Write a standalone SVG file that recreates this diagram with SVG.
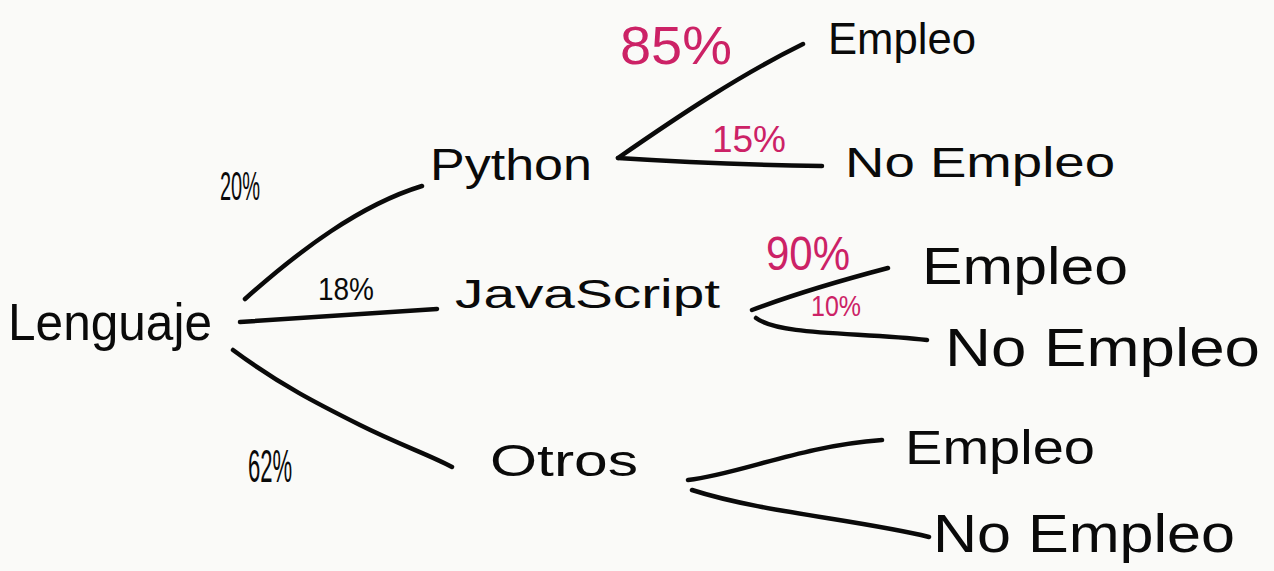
<svg xmlns="http://www.w3.org/2000/svg" width="1274" height="571" viewBox="0 0 1274 571">
<style>
.bg{fill:#fafaf8}
.e{fill:none;stroke:#0a0a0a;stroke-width:4.5;stroke-linecap:round}
.t{font-family:"Liberation Sans",Arial,sans-serif;fill:#0a0a0a}
.p{font-family:"Liberation Sans",Arial,sans-serif;fill:#cc2266}
</style>
<rect class="bg" x="0" y="0" width="1274" height="571"/>
<g id="connectors">
<path class="e" d="M245,299 C300,250 360,205 422,186"/>
<path class="e" d="M240,322 C310,317 380,313 437,309"/>
<path class="e" d="M233,350 C280,385 320,405 360,425 C400,445 430,455 452,467"/>
<path class="e" d="M618,158 C680,115 740,75 803,44"/>
<path class="e" d="M618,158 C680,162 760,165 822,166"/>
<path class="e" d="M752,310 C800,292 850,278 888,268"/>
<path class="e" d="M756,318 C780,336 860,332 927,340"/>
<path class="e" d="M688,480 C740,474 800,446 882,440"/>
<path class="e" d="M692,490 C760,512 860,520 929,537"/>
</g>
<g id="node-lenguaje"><text class="t" x="8" y="340" font-size="52" textLength="204" lengthAdjust="spacingAndGlyphs">Lenguaje</text></g>
<g id="node-python"><text class="t" x="430" y="180" font-size="44" textLength="162" lengthAdjust="spacingAndGlyphs">Python</text></g>
<g id="node-javascript"><text class="t" x="455" y="308" font-size="40" textLength="265" lengthAdjust="spacingAndGlyphs">JavaScript</text></g>
<g id="node-otros"><text class="t" x="490" y="476" font-size="44" textLength="148" lengthAdjust="spacingAndGlyphs">Otros</text></g>
<g id="node-py-empleo"><text class="t" x="828" y="54" font-size="44" textLength="148" lengthAdjust="spacingAndGlyphs">Empleo</text></g>
<g id="node-py-noempleo"><text class="t" x="845" y="177" font-size="42" textLength="270" lengthAdjust="spacingAndGlyphs">No Empleo</text></g>
<g id="node-js-empleo"><text class="t" x="922" y="284" font-size="52" textLength="206" lengthAdjust="spacingAndGlyphs">Empleo</text></g>
<g id="node-js-noempleo"><text class="t" x="945" y="366" font-size="54" textLength="315" lengthAdjust="spacingAndGlyphs">No Empleo</text></g>
<g id="node-ot-empleo"><text class="t" x="905" y="464" font-size="48" textLength="190" lengthAdjust="spacingAndGlyphs">Empleo</text></g>
<g id="node-ot-noempleo"><text class="t" x="933" y="552" font-size="54" textLength="302" lengthAdjust="spacingAndGlyphs">No Empleo</text></g>
<g id="labels">
<text class="t" transform="translate(220,200) scale(0.5,1)" x="0" y="0" font-size="40">20%</text>
<text class="t" x="318" y="300" font-size="32" textLength="56" lengthAdjust="spacingAndGlyphs">18%</text>
<text class="t" transform="translate(248,482) scale(0.48,1)" x="0" y="0" font-size="46">62%</text>
<text class="p" x="620" y="64" font-size="54" textLength="112" lengthAdjust="spacingAndGlyphs">85%</text>
<text class="p" x="712" y="152" font-size="36" textLength="74" lengthAdjust="spacingAndGlyphs">15%</text>
<text class="p" x="766" y="270" font-size="48" textLength="84" lengthAdjust="spacingAndGlyphs">90%</text>
<text class="p" x="811" y="316" font-size="30" textLength="50" lengthAdjust="spacingAndGlyphs">10%</text>
</g>
</svg>
